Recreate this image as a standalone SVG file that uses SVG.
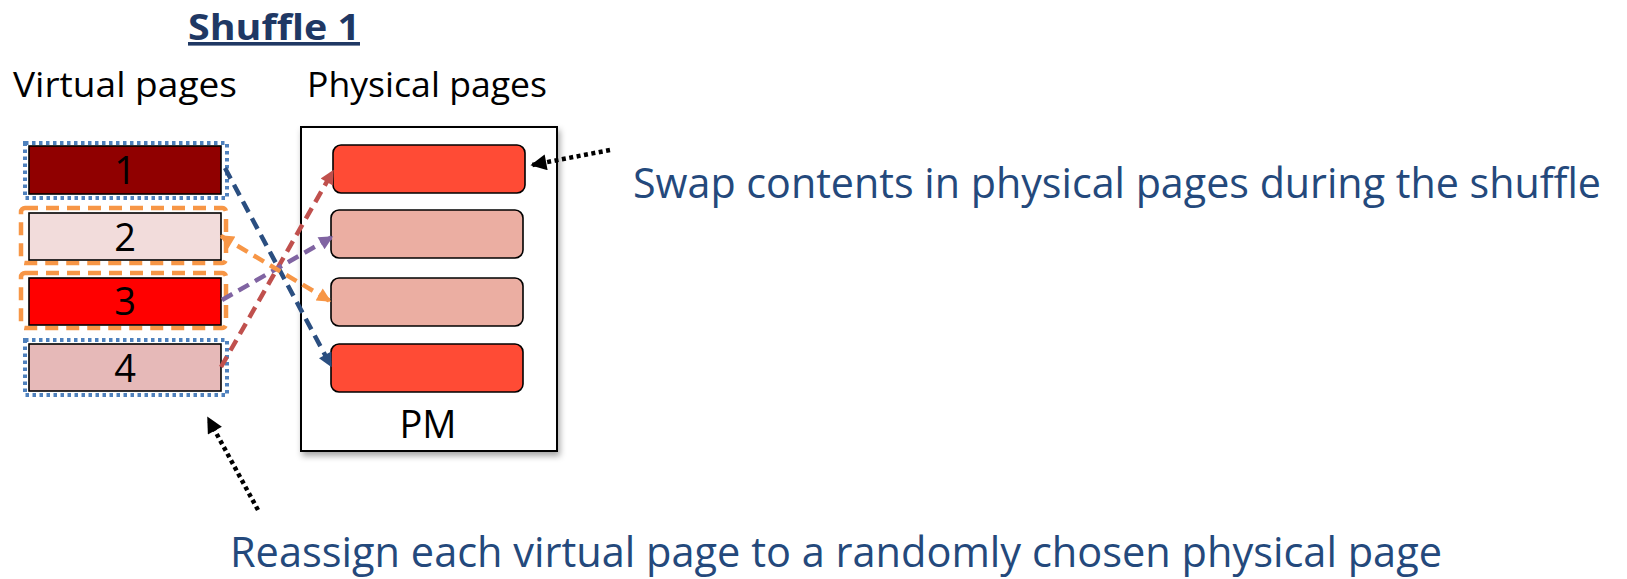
<svg xmlns="http://www.w3.org/2000/svg" width="1627" height="579" viewBox="0 0 1627 579">
<style>
.t{font-family:"Open Sans","Liberation Sans",sans-serif;}
.lbl{font-size:34px;fill:#000;}
.num{font-size:38px;fill:#000;text-anchor:middle;}
.note{font-size:42px;fill:#24497C;}
.vp{stroke:#000;stroke-width:1.6;}
.pp{stroke:#000;stroke-width:1.6;}
.dotb{fill:none;stroke:#4F81BD;stroke-width:4;stroke-dasharray:3.5 3.5;}
.dasho{fill:none;stroke:#F79646;stroke-width:4.5;stroke-dasharray:13 8;}
.conn{fill:none;stroke-width:4.5;stroke-dasharray:12 7;}
.dotk{fill:none;stroke:#000;stroke-width:4.5;stroke-dasharray:4 3.5;}
</style>
<defs>
<filter id="sh" x="-10%" y="-10%" width="130%" height="130%">
<feDropShadow dx="2" dy="4" stdDeviation="3" flood-color="#000" flood-opacity="0.35"/>
</filter>
<marker id="aB" viewBox="0 0 10 10" refX="9" refY="5" markerUnits="userSpaceOnUse" markerWidth="16" markerHeight="14" orient="auto"><path d="M0,0 L10,5 L0,10 z" fill="#2A4E80"/></marker>
<marker id="aR" viewBox="0 0 10 10" refX="9" refY="5" markerUnits="userSpaceOnUse" markerWidth="16" markerHeight="14" orient="auto"><path d="M0,0 L10,5 L0,10 z" fill="#C0504D"/></marker>
<marker id="aP" viewBox="0 0 10 10" refX="9" refY="5" markerUnits="userSpaceOnUse" markerWidth="16" markerHeight="14" orient="auto"><path d="M0,0 L10,5 L0,10 z" fill="#8064A2"/></marker>
<marker id="aO" viewBox="0 0 10 10" refX="9" refY="5" markerUnits="userSpaceOnUse" markerWidth="16" markerHeight="14" orient="auto-start-reverse"><path d="M0,0 L10,5 L0,10 z" fill="#F79646"/></marker>
<marker id="aK" viewBox="0 0 10 10" refX="9" refY="5" markerUnits="userSpaceOnUse" markerWidth="18" markerHeight="16" orient="auto"><path d="M0,0 L10,5 L0,10 z" fill="#000"/></marker>
</defs>
<rect width="1627" height="579" fill="#fff"/>

<g id="title">
<text class="t" x="188" y="40" font-size="36" font-weight="bold" fill="#1F3864" text-decoration="underline" textLength="172" lengthAdjust="spacingAndGlyphs">Shuffle 1</text>
</g>
<g id="label-virtual"><text class="t lbl" x="13" y="97" textLength="224" lengthAdjust="spacingAndGlyphs">Virtual pages</text></g>
<g id="label-physical"><text class="t lbl" x="307" y="97" textLength="240" lengthAdjust="spacingAndGlyphs">Physical pages</text></g>

<g id="pm">
<rect x="301" y="127" width="256" height="324" fill="#fff" stroke="#000" stroke-width="2" filter="url(#sh)"/>
<text class="t num" x="428" y="438" font-size="36">PM</text>
</g>
<g id="phys1"><rect class="pp" x="333" y="145" width="192" height="48" rx="8" fill="#FF4B35"/></g>
<g id="phys2"><rect class="pp" x="331" y="210" width="192" height="48" rx="8" fill="#EBAEA2"/></g>
<g id="phys3"><rect class="pp" x="331" y="278" width="192" height="48" rx="8" fill="#EBAEA2"/></g>
<g id="phys4"><rect class="pp" x="331" y="344" width="192" height="48" rx="8" fill="#FF4B35"/></g>

<g id="vpage1">
<rect class="dotb" x="25" y="143" width="202" height="55"/>
<rect class="vp" x="29" y="146" width="192" height="48" fill="#900000"/>
<text class="t num" x="125" y="184">1</text>
</g>
<g id="vpage2">
<rect class="dasho" x="21" y="208" width="205" height="55" rx="4"/>
<rect class="vp" x="29" y="213" width="192" height="47" fill="#F2DCDB"/>
<text class="t num" x="125" y="251">2</text>
</g>
<g id="vpage3">
<rect class="dasho" x="21" y="273" width="205" height="55" rx="4"/>
<rect class="vp" x="29" y="278" width="192" height="47" fill="#FF0000"/>
<text class="t num" x="125" y="315">3</text>
</g>
<g id="vpage4">
<rect class="dotb" x="25" y="340" width="202" height="55"/>
<rect class="vp" x="29" y="344" width="192" height="47" fill="#E6B9B8"/>
<text class="t num" x="125" y="382">4</text>
</g>

<g id="connectors">
<line class="conn" x1="225" y1="168" x2="331" y2="366" stroke="#2A4E80" marker-end="url(#aB)"/>
<line class="conn" x1="221" y1="367" x2="333" y2="171" stroke="#C0504D" marker-end="url(#aR)"/>
<line class="conn" x1="222" y1="300" x2="332" y2="237" stroke="#8064A2" marker-end="url(#aP)"/>
<line class="conn" x1="221" y1="236" x2="330" y2="301" stroke="#F79646" marker-end="url(#aO)" marker-start="url(#aO)"/>
<line class="dotk" x1="610" y1="150" x2="532" y2="165" marker-end="url(#aK)"/>
<line class="dotk" x1="258" y1="510" x2="208" y2="418" marker-end="url(#aK)"/>
</g>

<g id="note-swap"><text class="t note" x="633" y="198" textLength="968" lengthAdjust="spacingAndGlyphs">Swap contents in physical pages during the shuffle</text></g>
<g id="note-reassign"><text class="t note" x="230" y="567" textLength="1212" lengthAdjust="spacingAndGlyphs">Reassign each virtual page to a randomly chosen physical page</text></g>
</svg>
